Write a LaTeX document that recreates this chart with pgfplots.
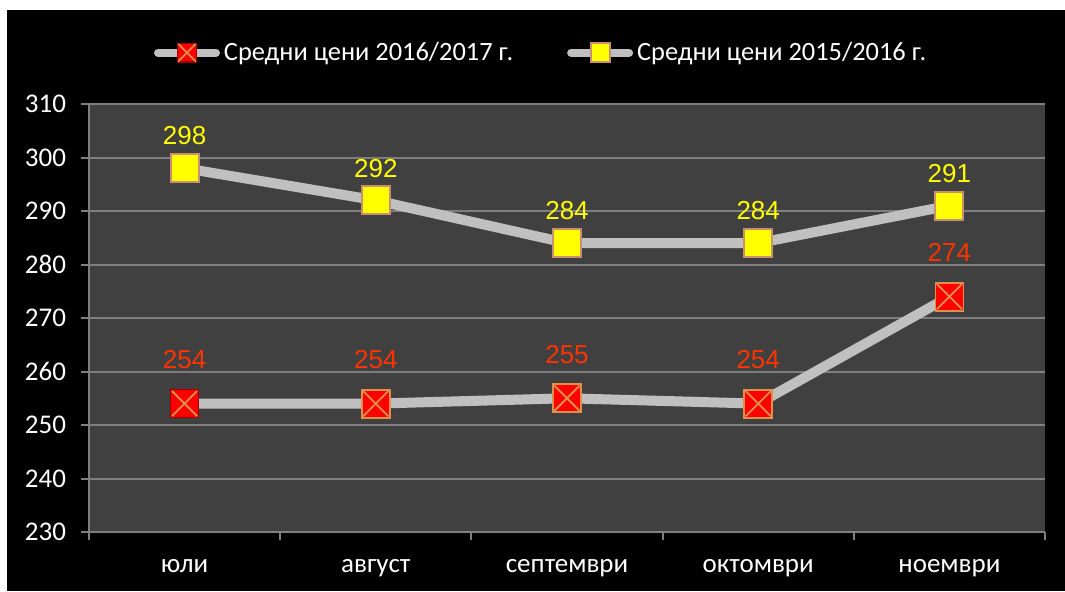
\documentclass[border=0pt]{standalone}
\usepackage{fontspec}
\setmainfont{Carlito}
\newfontfamily\labfont{Liberation Sans}
\usepackage{pgfplots}
\pgfplotsset{compat=1.18}
\definecolor{plotbg}{HTML}{404040}
\definecolor{gridc}{HTML}{7F7F7F}
\definecolor{linec}{HTML}{C0C0C0}
\definecolor{redm}{HTML}{FF0000}
\definecolor{redb}{HTML}{A00000}
\definecolor{xorange}{HTML}{E0904A}
\definecolor{yellm}{HTML}{FFFF00}
\definecolor{yellb}{HTML}{C89070}
\definecolor{redlab}{HTML}{FF3300}
\definecolor{yellab}{HTML}{FFFF00}
\pgfdeclareplotmark{sqx}{%
  \pgfpathrectangle{\pgfpoint{-\pgfplotmarksize}{-\pgfplotmarksize}}{\pgfpoint{2\pgfplotmarksize}{2\pgfplotmarksize}}%
  \pgfusepathqfillstroke
  \pgfsetstrokecolor{xorange}%
  \pgfsetlinewidth{0.9pt}%
  \pgfpathmoveto{\pgfpoint{-0.9\pgfplotmarksize}{-0.9\pgfplotmarksize}}%
  \pgfpathlineto{\pgfpoint{0.9\pgfplotmarksize}{0.9\pgfplotmarksize}}%
  \pgfpathmoveto{\pgfpoint{-0.9\pgfplotmarksize}{0.9\pgfplotmarksize}}%
  \pgfpathlineto{\pgfpoint{0.9\pgfplotmarksize}{-0.9\pgfplotmarksize}}%
  \pgfusepathqstroke
}
\pgfdeclareplotmark{sqy}{%
  \pgfpathrectangle{\pgfpoint{-\pgfplotmarksize}{-\pgfplotmarksize}}{\pgfpoint{2\pgfplotmarksize}{2\pgfplotmarksize}}%
  \pgfusepathqfillstroke
}
\begin{document}
\begin{tikzpicture}
\path[use as bounding box] (0,0) rectangle (532.5pt,295.5pt);
\fill[white] (0,0) rectangle (532.5pt,295.5pt);
\fill[black] (3.5pt,0) rectangle (532.5pt,290.5pt);
\begin{axis}[
  at={(44.5pt,29.5pt)}, anchor=south west,
  scale only axis, width=478pt, height=214pt,
  xmin=-0.5, xmax=4.5, ymin=230, ymax=310,
  ytick={230,240,...,310},
  xtick={0,1,2,3,4},
  xticklabels={юли,август,септември,октомври,ноември},
  minor xtick={-0.5,0.5,1.5,2.5,3.5,4.5},
  major x tick style={draw=none},
  minor tick length=4pt,
  major tick length=4pt,
  tick align=outside,
  axis x line*=bottom, axis y line*=left,
  axis line style={gridc, line width=1pt, -},
  tick style={gridc, line width=1pt},
  ymajorgrids, major grid style={gridc, line width=1pt},
  axis background/.style={fill=plotbg},
  /pgf/number format/assume math mode=true,
  ticklabel style={font=\fontsize{13.5}{15}\selectfont, text=white},
  yticklabel style={xshift=-4pt},
  xticklabel style={yshift=-6pt},
  clip=false,
  legend columns=2,
  legend style={draw=none, fill=none, text=white, font=\fontsize{13.2}{15}\selectfont,
    at={(0.474,1.12)}, anchor=center, column sep=0pt,
    /tikz/every even column/.append style={column sep=25pt}},
  legend cell align=left,
  legend image code/.code={%
    \draw[#1, line width=4pt, mark size=4.7pt, mark repeat=2, mark phase=2, line cap=round] plot coordinates {(0pt,0pt) (14.5pt,0pt) (29pt,0pt)};},
]
\addplot[linec, line width=5pt, mark=sqx, mark size=7pt,
  mark options={fill=redm, draw=redb, line width=0.6pt, solid},
  nodes near coords, point meta=explicit symbolic,
  every node near coord/.append style={font=\labfont\fontsize{13}{15}\selectfont, text=redlab, anchor=south, inner sep=0pt, yshift=17pt}]
  coordinates {(0,254) [254] (1,254) [254] (2,255) [255] (3,254) [254] (4,274) [274]};
\addlegendentry{Средни цени 2016/2017 г.}
\addplot[linec, line width=5pt, mark=sqy, mark size=7pt,
  mark options={fill=yellm, draw=yellb, line width=1pt, solid},
  nodes near coords, point meta=explicit symbolic,
  every node near coord/.append style={font=\labfont\fontsize{13}{15}\selectfont, text=yellab, anchor=south, inner sep=0pt, yshift=11pt}]
  coordinates {(0,298) [298] (1,292) [292] (2,284) [284] (3,284) [284] (4,291) [291]};
\addlegendentry{Средни цени 2015/2016 г.}
\end{axis}
\end{tikzpicture}
\end{document}
